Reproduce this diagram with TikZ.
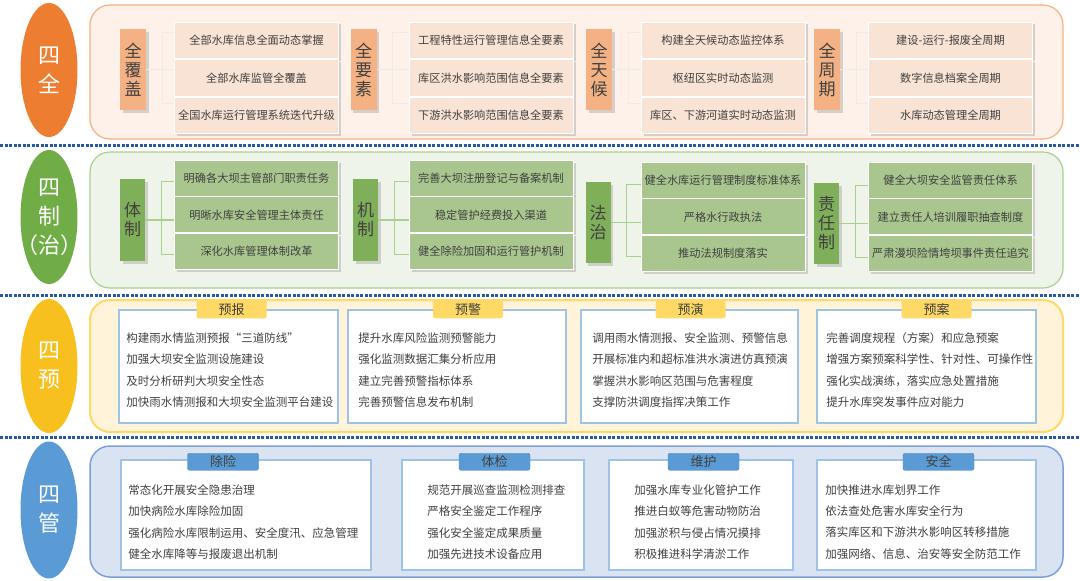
\documentclass[tikz,border=0pt]{standalone}
\usepackage{fontspec}
\setmainfont{Noto Sans CJK SC}
\usetikzlibrary{positioning,shapes.geometric,shadows,calc}

\definecolor{orangeA}{HTML}{ED7D31}
\definecolor{orangeB}{HTML}{F4B183}
\definecolor{orangeC}{HTML}{F9E3D4}
\definecolor{orangeD}{HTML}{FDF1EA}
\definecolor{greenA}{HTML}{70AD47}
\definecolor{greenB}{HTML}{7FAF59}
\definecolor{greenC}{HTML}{A9C68F}
\definecolor{greenD}{HTML}{EFF4EA}
\definecolor{greenE}{HTML}{A9D18E}
\definecolor{yellowA}{HTML}{F8C01E}
\definecolor{yellowB}{HTML}{FFD966}
\definecolor{yellowD}{HTML}{FFF4DA}
\definecolor{blueA}{HTML}{5B9BD5}
\definecolor{blueB}{HTML}{9DC3E6}
\definecolor{blueD}{HTML}{DAE3F1}
\definecolor{blueE}{HTML}{7F9FD8}
\definecolor{sepblue}{HTML}{2458A8}
\definecolor{txtgray}{HTML}{404040}

\begin{document}
\begin{tikzpicture}[x=1pt,y=-1pt,
    oval/.style={ellipse, minimum width=57, minimum height=134, inner sep=0pt, text=white, align=center, font=\fontsize{22}{29}\selectfont},
    panel/.style={rounded corners=20pt, line width=1.2pt, minimum width=973, inner sep=0pt},
    lab/.style={minimum width=26, minimum height=81, inner sep=0pt, align=center, text=txtgray, font=\fontsize{17}{19}\selectfont, drop shadow={shadow xshift=2.5pt, shadow yshift=-2.5pt, opacity=0.3}},
    item/.style={minimum width=164, minimum height=36.7, inner sep=1pt, draw=white, line width=0.8pt, text=txtgray, font=\fontsize{11.2}{13}\selectfont, drop shadow={shadow xshift=2.5pt, shadow yshift=-2.5pt, opacity=0.3}},
    link/.style={line width=1.2pt},
    card/.style={draw=blueB, line width=1.5pt, fill=white, inner sep=0pt, minimum height=113},
    cardtab/.style={rounded corners=2pt, minimum width=70, minimum height=18, inner sep=0pt, text=txtgray, font=\fontsize{13}{15}\selectfont},
    cardtext/.style={anchor=west, align=left, inner sep=0pt, text=txtgray, font=\fontsize{11.5}{21.3}\selectfont},
    rowsep/.style={sepblue, line width=3pt, dash pattern=on 3.2pt off 1.3pt}]

\fill[white] (0,0) rectangle (1080,581);
\useasboundingbox (0,0) rectangle (1080,581);

% separators
\draw[rowsep] (0,145) -- (1080,145);
\draw[rowsep] (0,295) -- (1080,295);
\draw[rowsep] (0,437) -- (1080,437);

% 四全
\node[oval, fill=orangeA] (quan) at (49,70) {四\\全};
\node[panel, fill=orangeD, draw=orangeB, minimum height=134] (quanp) at (576.5,72) {};
\node[item, fill=orangeC] (fugai1) at (256.5,40.3) {全部水库信息全面动态掌握};
\node[item, fill=orangeC] (fugai2) [below=0pt of fugai1] {全部水库监管全覆盖};
\node[item, fill=orangeC] (fugai3) [below=0pt of fugai2] {全国水库运行管理系统迭代升级};
\node[lab, fill=orangeB] (fugai) at (133,69.5) {全\\覆\\盖};
\node[item, fill=orangeC] (yaosu1) at (491,40.3) {工程特性运行管理信息全要素};
\node[item, fill=orangeC] (yaosu2) [below=0pt of yaosu1] {库区洪水影响范围信息全要素};
\node[item, fill=orangeC] (yaosu3) [below=0pt of yaosu2] {下游洪水影响范围信息全要素};
\node[lab, fill=orangeB] (yaosu) at (363.5,69.5) {全\\要\\素};
\node[item, fill=orangeC] (tianhou1) at (723,40.3) {构建全天候动态监控体系};
\node[item, fill=orangeC] (tianhou2) [below=0pt of tianhou1] {枢纽区实时动态监测};
\node[item, fill=orangeC] (tianhou3) [below=0pt of tianhou2] {库区、下游河道实时动态监测};
\node[lab, fill=orangeB] (tianhou) at (599,69.5) {全\\天\\候};
\node[item, fill=orangeC] (zhouqi1) at (950.5,40.3) {建设-运行-报废全周期};
\node[item, fill=orangeC] (zhouqi2) [below=0pt of zhouqi1] {数字信息档案全周期};
\node[item, fill=orangeC] (zhouqi3) [below=0pt of zhouqi2] {水库动态管理全周期};
\node[lab, fill=orangeB] (zhouqi) at (827,69.5) {全\\周\\期};
\foreach \g in {fugai,yaosu,tianhou,zhouqi} {
  \draw[link, gray!15] (\g.east) -- (\g.east -| \g2.west);
  \draw[link, gray!15] ($(\g.north -| \g1.west)+(0,4)$) -| ($(\g.east)+(16,0)$) |- ($(\g.south -| \g3.west)+(0,-7)$);
}

% 四制（治）
\node[oval, fill=greenA] (zhi) at (49,217) {四\\制\\\makebox[0pt]{（治）}};
\node[panel, fill=greenD, draw=greenE, minimum height=136] (zhip) at (576.5,220) {};
\node[item, fill=greenC, minimum height=36] (tizhi1) at (256.5,178) {明确各大坝主管部门职责任务};
\node[item, fill=greenC, minimum height=36] (tizhi2) [below=0pt of tizhi1] {明晰水库安全管理主体责任};
\node[item, fill=greenC, minimum height=36] (tizhi3) [below=0pt of tizhi2] {深化水库管理体制改革};
\node[lab, fill=greenB, minimum width=25, minimum height=82] (tizhi) at (132.5,220) {体\\制};
\node[item, fill=greenC, minimum height=36] (jizhi1) at (491,178) {完善大坝注册登记与备案机制};
\node[item, fill=greenC, minimum height=36] (jizhi2) [below=0pt of jizhi1] {稳定管护经费投入渠道};
\node[item, fill=greenC, minimum height=36] (jizhi3) [below=0pt of jizhi2] {健全除险加固和运行管护机制};
\node[lab, fill=greenB, minimum width=25, minimum height=82] (jizhi) at (365.5,220) {机\\制};
\node[item, fill=greenC, minimum height=36] (fazhi1) at (723,180) {健全水库运行管理制度标准体系};
\node[item, fill=greenC, minimum height=36] (fazhi2) [below=0pt of fazhi1] {严格水行政执法};
\node[item, fill=greenC, minimum height=36] (fazhi3) [below=0pt of fazhi2] {推动法规制度落实};
\node[lab, fill=greenB, minimum width=25] (fazhi) at (598,222.5) {法\\治};
\node[item, fill=greenC, minimum height=36] (zeren1) at (950.5,180) {健全大坝安全监管责任体系};
\node[item, fill=greenC, minimum height=36] (zeren2) [below=0pt of zeren1] {建立责任人培训履职抽查制度};
\node[item, fill=greenC, minimum height=36] (zeren3) [below=0pt of zeren2] {严肃漫坝险情垮坝事件责任追究};
\node[lab, fill=greenB, minimum width=25] (zeren) at (826.5,223.5) {责\\任\\制};
\foreach \g in {tizhi,jizhi,fazhi,zeren} {
  \draw[link, greenE] (\g.east) -- (\g.east -| \g2.west);
  \draw[link, greenE] ($(\g.north -| \g1.west)+(0,3)$) -| ($(\g.east)+(16,0)$) |- ($(\g.south -| \g3.west)+(0,-7)$);
}

% 四预
\node[oval, fill=yellowA] (yu) at (49,366) {四\\预};
\node[panel, fill=yellowD, draw=yellowB, line width=2pt, minimum height=132] (yup) at (576.5,366) {};
\node[card, minimum width=219] (yubao) at (228.5,366.5) {};
\node[cardtab, fill=yellowB] (yubaot) at ($(yubao.north)+(3,0)$) {预报};
\node[cardtext] (yubaox) at ($(yubao.west)+(8,3.5)$) {构建雨水情监测预报“三道防线”\\加强大坝安全监测设施建设\\及时分析研判大坝安全性态\\加快雨水情测报和大坝安全监测平台建设};
\node[card, minimum width=218] (yujing) at (457,366.5) {};
\node[cardtab, fill=yellowB] (yujingt) at ($(yujing.north)+(11,0)$) {预警};
\node[cardtext] (yujingx) at ($(yujing.west)+(11,3.5)$) {提升水库风险监测预警能力\\强化监测数据汇集分析应用\\建立完善预警指标体系\\完善预警信息发布机制};
\node[card, minimum width=217] (yuyan) at (689.5,366.5) {};
\node[cardtab, fill=yellowB] (yuyant) at ($(yuyan.north)+(1,0)$) {预演};
\node[cardtext] (yuyanx) at ($(yuyan.west)+(12,3.5)$) {调用雨水情测报、安全监测、预警信息\\开展标准内和超标准洪水演进仿真预演\\掌握洪水影响区范围与危害程度\\支撑防洪调度指挥决策工作};
\node[card, minimum width=219] (yuan) at (926.5,366.5) {};
\node[cardtab, fill=yellowB] (yuant) at ($(yuan.north)+(10,0)$) {预案};
\node[cardtext] (yuanx) at ($(yuan.west)+(10,3.5)$) {完善调度规程（方案）和应急预案\\增强方案预案科学性、针对性、可操作性\\强化实战演练，落实应急处置措施\\提升水库突发事件应对能力};

% 四管
\node[oval, fill=blueA, minimum height=137] (guan) at (49,510) {四\\管};
\node[panel, fill=blueD, draw=blueE, line width=1.5pt, minimum height=131] (guanp) at (576.5,511.5) {};
\node[card, minimum width=250, minimum height=110] (chuxian) at (246,515) {};
\node[cardtab, fill=blueA, draw=blueA!85!black, minimum width=71, minimum height=17] (chuxiant) at ($(chuxian.north)+(-23,2.5)$) {除险};
\node[cardtext] (chuxianx) at ($(chuxian.west)+(8,7)$) {常态化开展安全隐患治理\\加快病险水库除险加固\\强化病险水库限制运用、安全度汛、应急管理\\健全水库降等与报废退出机制};
\node[card, minimum width=182, minimum height=110] (tijian) at (493,515) {};
\node[cardtab, fill=blueA, draw=blueA!85!black, minimum width=71, minimum height=17] (tijiant) at ($(tijian.north)+(1.5,2.5)$) {体检};
\node[cardtext] (tijianx) at ($(tijian.west)+(26,7)$) {规范开展巡查监测检测排查\\严格安全鉴定工作程序\\强化安全鉴定成果质量\\加强先进技术设备应用};
\node[card, minimum width=184, minimum height=110] (weihu) at (701,515) {};
\node[cardtab, fill=blueA, draw=blueA!85!black, minimum width=71, minimum height=17] (weihut) at ($(weihu.north)+(2.5,2.5)$) {维护};
\node[cardtext] (weihux) at ($(weihu.west)+(26,7)$) {加强水库专业化管护工作\\推进白蚁等危害动物防治\\加强淤积与侵占情况摸排\\积极推进科学清淤工作};
\node[card, minimum width=219, minimum height=110] (anquan) at (926.5,515) {};
\node[cardtab, fill=blueA, draw=blueA!85!black, minimum width=71, minimum height=17] (anquant) at ($(anquan.north)+(12,2.5)$) {安全};
\node[cardtext] (anquanx) at ($(anquan.west)+(9,7)$) {加快推进水库划界工作\\依法查处危害水库安全行为\\落实库区和下游洪水影响区转移措施\\加强网络、信息、治安等安全防范工作};
\end{tikzpicture}
\end{document}
